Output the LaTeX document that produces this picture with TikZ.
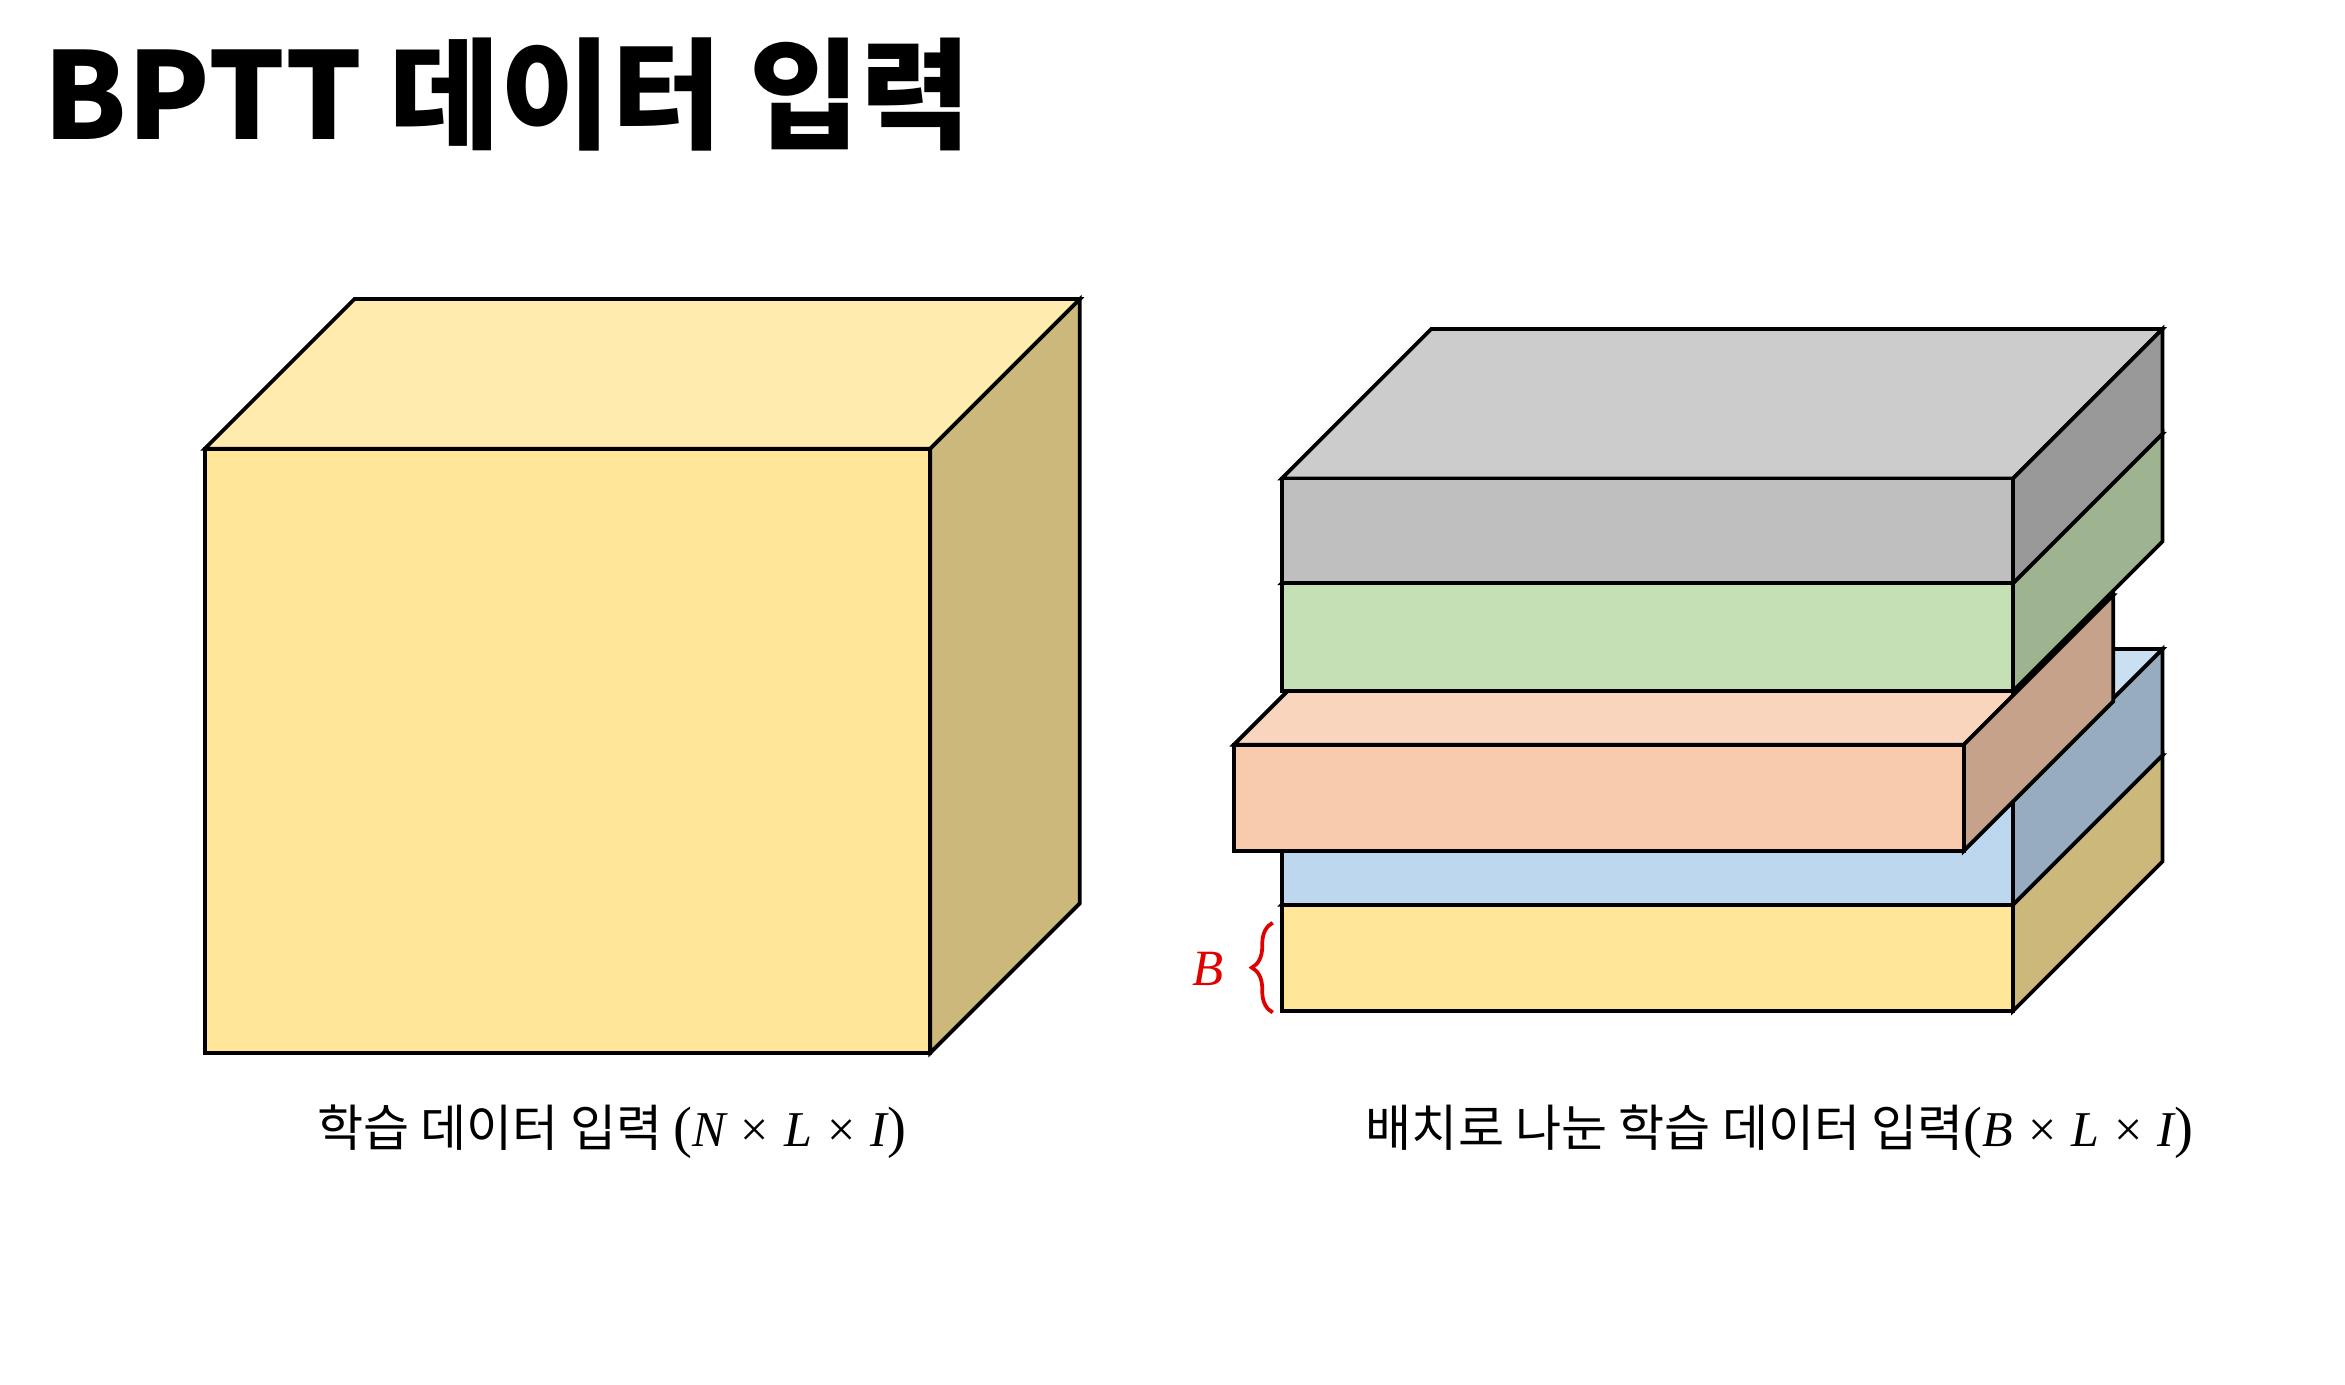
\documentclass[tikz,border=0pt]{standalone}
\usepackage{fontspec}
\newfontfamily\kr{Noto Sans CJK KR}
\newfontfamily\mser{Liberation Serif}
\usetikzlibrary{decorations.pathreplacing}
\definecolor{yfront}{HTML}{FFE699}
\definecolor{ytop}{HTML}{FFEBAD}
\definecolor{yside}{HTML}{CCB87A}
\definecolor{bfront}{HTML}{BDD7EE}
\definecolor{btop}{HTML}{CADFF1}
\definecolor{bside}{HTML}{97ACBE}
\definecolor{ofront}{HTML}{F8CBAD}
\definecolor{otop}{HTML}{F9D5BD}
\definecolor{oside}{HTML}{C6A28A}
\definecolor{gfront}{HTML}{C5E0B4}
\definecolor{gtop}{HTML}{D1E6C3}
\definecolor{gside}{HTML}{9EB390}
\definecolor{kfront}{HTML}{BFBFBF}
\definecolor{ktop}{HTML}{CCCCCC}
\definecolor{kside}{HTML}{999999}
\definecolor{bracered}{HTML}{E00000}
\newcommand\mv[1]{{\mser\itshape #1}}
\newcommand\mtimes{{\mser\hspace{0.3em}×\hspace{0.3em}}}
\newcommand\bigp[1]{{\mser\fontsize{38}{40}\selectfont #1}}
\tikzset{
  face/.style={draw=black, line width=2.5pt, line join=miter},
  title/.style={font=\kr\bfseries\fontsize{80.5}{96}\selectfont, anchor=base west, inner sep=0pt},
  caption/.style={font=\kr\fontsize{33.5}{40}\selectfont, inner sep=0pt},
  redtxt/.style={text=bracered, font=\fontsize{34}{40}\selectfont, inner sep=0pt}
}
% #1 x, #2 y (front top-left), #3 width, #4 height, #5 depth, #6 front, #7 top, #8 side
\newcommand\cuboid[8]{%
  \filldraw[face, fill=#7] (#1,#2) -- ++(#3,0) -- ++(#5,-#5) -- ++(-#3,0) -- cycle;
  \filldraw[face, fill=#8] (#1+#3,#2) -- ++(#5,-#5) -- ++(0,#4) -- ++(-#5,#5) -- cycle;
  \filldraw[face, fill=#6] (#1,#2) rectangle ++(#3,#4);
}
\begin{document}
\begin{tikzpicture}[x=1pt, y=-1pt]
\useasboundingbox (0,0) rectangle (1568,926);
\node[title] (ttl) at (29,93) {BPTT 데이터 입력};
% left cube
\cuboid{137}{300}{485}{404}{100}{yfront}{ytop}{yside}
\node[caption] (lcap) at (409,757) {학습 데이터 입력 \bigp{(}\mv{N}\mtimes\mv{L}\mtimes\mv{I}\bigp{)}};
% right stack
\cuboid{857}{605}{489}{71}{100}{yfront}{ytop}{yside}
\cuboid{857}{534}{489}{71}{100}{bfront}{btop}{bside}
\cuboid{825}{498}{488}{71}{100}{ofront}{otop}{oside}
\cuboid{857}{390}{489}{72}{100}{gfront}{gtop}{gside}
\cuboid{857}{320}{489}{70}{100}{kfront}{ktop}{kside}
\node[caption] (rcap) at (1190,757) {배치로 나눈 학습 데이터 입력\bigp{(}\mv{B}\mtimes\mv{L}\mtimes\mv{I}\bigp{)}};
% brace
\coordinate (bl) at (851,677);
\coordinate (bu) at (851,617);
\draw[bracered, line width=2.5pt, decorate, decoration={brace, amplitude=14pt}] (bl) -- (bu);
\node[redtxt] (blab) at (808,648) {\mv{B}};
\end{tikzpicture}
\end{document}
